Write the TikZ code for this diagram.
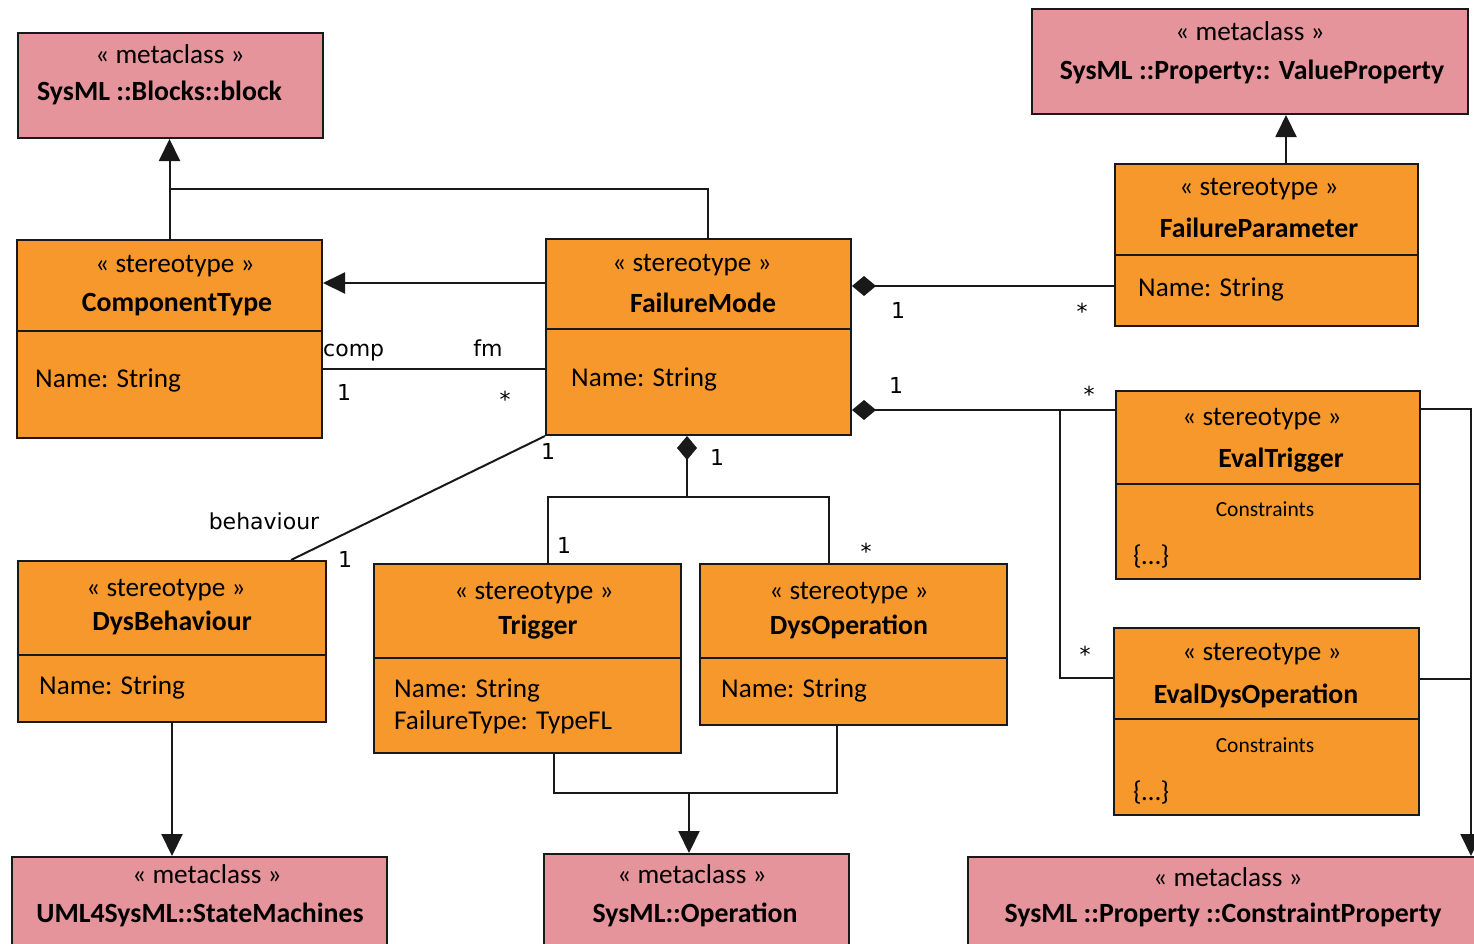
\documentclass[tikz,border=0pt]{standalone}
\usepackage{fontspec}
\setmainfont{Carlito}
\newfontfamily\labelfont{DejaVu Sans}
\usetikzlibrary{arrows.meta}
\definecolor{metapink}{RGB}{228,148,154}
\definecolor{stereoorange}{RGB}{247,152,45}
\definecolor{edge}{RGB}{25,25,25}

\begin{document}
\begin{tikzpicture}[x=1pt,y=-1pt,
  box/.style={draw=edge, line width=2pt, inner sep=0pt, anchor=north west},
  meta/.style={box, fill=metapink},
  ster/.style={box, fill=stereoorange},
  txt/.style={inner sep=0pt, anchor=base, font=\fontsize{27.2}{31}\selectfont},
  title/.style={txt, font=\fontsize{27.8}{31}\selectfont\bfseries},
  attr/.style={txt, anchor=base west},
  small/.style={txt, font=\fontsize{21.5}{26}\selectfont},
  lbl/.style={inner sep=0pt, anchor=base, font=\labelfont\fontsize{22}{26}\selectfont},
  conn/.style={draw=edge, line width=2pt},
  tri/.style={-{Triangle[length=22pt,width=21pt]}},
  dia/.style={{Diamond[length=24pt,width=20pt]}-}
]
\useasboundingbox (0,0) rectangle (1474,943);
\clip (0,0) rectangle (1474,943);

% ---------- metaclasses ----------
\node[meta, minimum width=305pt, minimum height=105pt] (block) at (17,32) {};
\node[txt] (block-s) at (170,63) {« metaclass »};
\node[title, anchor=base west] (block-t) at (37,100) {SysML ::Blocks::block};

\node[meta, minimum width=436pt, minimum height=105pt] (vp) at (1031,8) {};
\node[txt] (vp-s) at (1250,40) {« metaclass »};
\node[title] (vp-t) at (1252,79) {SysML ::Property:: ValueProperty};

\node[meta, minimum width=375pt, minimum height=110pt] (sm) at (11,856) {};
\node[txt] (sm-s) at (207,883) {« metaclass »};
\node[title] (sm-t) at (200,922) {UML4SysML::StateMachines};

\node[meta, minimum width=305pt, minimum height=110pt] (op) at (543,853) {};
\node[txt] (op-s) at (692,883) {« metaclass »};
\node[title] (op-t) at (695,922) {SysML::Operation};

\node[meta, minimum width=560pt, minimum height=110pt] (cp) at (967,856) {};
\node[txt] (cp-s) at (1228,886) {« metaclass »};
\node[title] (cp-t) at (1223,922) {SysML ::Property ::ConstraintProperty};

% ---------- stereotypes ----------
\node[ster, minimum width=305pt, minimum height=198pt] (ct) at (16,239) {};
\draw[conn] (16,331) -- (321,331);
\node[txt] (ct-s) at (175,272) {« stereotype »};
\node[title] (ct-t) at (177,311) {ComponentType};
\node[attr] (ct-a) at (35,387) {Name: String};

\node[ster, minimum width=305pt, minimum height=196pt] (fm) at (545,238) {};
\draw[conn] (545,329) -- (850,329);
\node[txt] (fm-s) at (692,271) {« stereotype »};
\node[title] (fm-t) at (703,312) {FailureMode};
\node[attr] (fm-a) at (571,386) {Name: String};

\node[ster, minimum width=303pt, minimum height=162pt] (fp) at (1114,163) {};
\draw[conn] (1114,255) -- (1417,255);
\node[txt] (fp-s) at (1259,195) {« stereotype »};
\node[title] (fp-t) at (1259,237) {FailureParameter};
\node[attr] (fp-a) at (1138,296) {Name: String};

\node[ster, minimum width=304pt, minimum height=188pt] (et) at (1115,390) {};
\draw[conn] (1115,484) -- (1419,484);
\node[txt] (et-s) at (1262,425) {« stereotype »};
\node[title] (et-t) at (1281,467) {EvalTrigger};
\node[small] (et-c) at (1265,516) {Constraints};
\node[attr] (et-b) at (1133,564) {\{…\}};

\node[ster, minimum width=305pt, minimum height=187pt] (ed) at (1113,627) {};
\draw[conn] (1113,719) -- (1418,719);
\node[txt] (ed-s) at (1262,660) {« stereotype »};
\node[title] (ed-t) at (1256,703) {EvalDysOperation};
\node[small] (ed-c) at (1265,752) {Constraints};
\node[attr] (ed-b) at (1133,800) {\{…\}};

\node[ster, minimum width=308pt, minimum height=161pt] (db) at (17,560) {};
\draw[conn] (17,655) -- (325,655);
\node[txt] (db-s) at (166,596) {« stereotype »};
\node[title] (db-t) at (172,630) {DysBehaviour};
\node[attr] (db-a) at (39,694) {Name: String};

\node[ster, minimum width=307pt, minimum height=189pt] (tr) at (373,563) {};
\draw[conn] (373,658) -- (680,658);
\node[txt] (tr-s) at (534,599) {« stereotype »};
\node[title] (tr-t) at (538,634) {Trigger};
\node[attr] (tr-a) at (394,697) {Name: String};
\node[attr] (tr-b) at (394,729) {FailureType: TypeFL};

\node[ster, minimum width=307pt, minimum height=161pt] (do) at (699,563) {};
\draw[conn] (699,658) -- (1006,658);
\node[txt] (do-s) at (849,599) {« stereotype »};
\node[title] (do-t) at (849,634) {DysOperation};
\node[attr] (do-a) at (721,697) {Name: String};

% ---------- junction points ----------
\coordinate (fmtop) at ([xshift=9.5pt]fm.north);
\coordinate (gen) at ([yshift=-50pt]block.south);
\coordinate (fmgen) at ([yshift=54pt]fm.west);
\coordinate (fmcomp) at ([yshift=-32pt]fm.west);
\coordinate (fmpar) at ([yshift=51pt]fm.east);
\coordinate (fmeval) at ([yshift=-73pt]fm.east);
\coordinate (split) at (1060,409);
\coordinate (edin) at ([yshift=43.5pt]ed.west);
\coordinate (etout) at ([yshift=76pt]et.east);
\coordinate (edout) at ([yshift=42.5pt]ed.east);
\coordinate (cpin) at (1471,856);
\coordinate (dbtop) at ([xshift=119pt]db.north);
\coordinate (fmbot) at ([xshift=-11.5pt]fm.south);
\coordinate (comp) at ([yshift=-61pt]fmbot);
\coordinate (trtop) at ([xshift=20.5pt]tr.north);
\coordinate (dotop) at ([xshift=-24.5pt]do.north);
\coordinate (trbot) at ([xshift=26.5pt]tr.south);
\coordinate (dobot) at ([xshift=-16.5pt]do.south);
\coordinate (opjoin) at (689,793);
\coordinate (fptop) at ([xshift=19.5pt]fp.north);

% ---------- connectors ----------
\draw[conn, tri] (ct.north) -- (ct.north |- block.south);
\draw[conn] (fmtop) |- (gen -| ct.north);
\draw[conn, tri] (fmgen) -- (fmgen -| ct.east);
\draw[conn] (fmcomp) -- (fmcomp -| ct.east);
\draw[conn, dia] (fmpar) -- (fmpar -| fp.west);
\draw[conn, dia] (fmeval) -- (fmeval -| et.west);
\draw[conn] (split) |- (edin);
\draw[conn, tri] (etout) -| (cpin);
\draw[conn] (edout) -- (edout -| cpin);
\draw[conn] (fm.south west) -- (dbtop);
\draw[conn, dia] (fmbot) -- (comp);
\draw[conn] (trtop) |- (comp) -| (dotop);
\draw[conn] (trbot) |- (opjoin) -| (dobot);
\draw[conn, tri] (opjoin) -- (opjoin |- op.north);
\draw[conn, tri] (db.south) -- (db.south |- sm.north);
\draw[conn, tri] (fptop) -- (fptop |- vp.south);

% ---------- role names and multiplicities ----------
\node[lbl, anchor=base west] (l-comp) at (323,356) {comp};
\node[lbl] (l-fm) at (488,356) {fm};
\node[lbl] (l-c1) at (344,400) {1};
\node[lbl] (l-c2) at (505,407) {*};
\node[lbl] (l-p1) at (898,318) {1};
\node[lbl] (l-p2) at (1082,319) {*};
\node[lbl] (l-e1) at (896,393) {1};
\node[lbl] (l-e2) at (1089,402) {*};
\node[lbl] (l-e3) at (1085,662) {*};
\node[lbl] (l-b1) at (548,459) {1};
\node[lbl] (l-beh) at (264,529) {behaviour};
\node[lbl] (l-b2) at (345,567) {1};
\node[lbl] (l-k1) at (717,465) {1};
\node[lbl] (l-k2) at (564,553) {1};
\node[lbl] (l-k3) at (866,559) {*};
\end{tikzpicture}
\end{document}
